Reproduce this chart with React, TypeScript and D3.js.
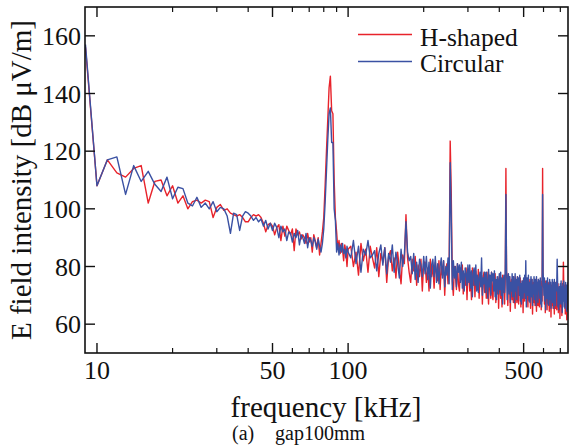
import React from 'react';
import * as d3 from 'd3';

// ---- data ----
const freqLow: number[] = d3.range(9, 101); // kHz, 1 kHz step
const freqHigh: number[] = d3.range(260).map((i) => 102.5 + 2.5 * i); // kHz, 2.5 kHz step

const redLow = [
  156, 108, 117, 112.5, 111, 114, 115, 102, 109.5, 110, 104.5, 108, 102, 104.5, 100,
  102.5, 103, 102, 103, 102.5, 97, 100.5, 101.5, 99.5, 100, 98.5, 98, 97.5, 98, 97, 95.5, 95.5,
  97, 98, 97.5, 98, 97, 95, 92, 94.5, 95, 94, 91, 93.5, 94.5, 89, 94, 90.5, 94, 92.5, 91, 93,
  85.5, 93, 91, 92, 89.5, 91, 90, 88, 91.5, 88.5, 90, 85, 91, 89, 86.5, 90, 84,
  88, 92, 97, 108, 120, 131, 142, 146, 134, 133, 110, 97, 92,
  86, 89, 84.5, 88, 86, 82, 87.5, 85, 80, 86,
];
const blueLow = [
  157, 108, 117, 118, 105, 115, 109.5, 113, 108.5, 106, 111, 103.5, 107.5, 107, 102,
  101, 104, 100.5, 102, 100, 102.5, 99, 100.5, 100, 97.5, 91.5, 98.5, 98, 92.5, 97.5, 99, 98.5,
  97.5, 96, 97, 95.5, 96.5, 94, 96, 93, 95, 92.5, 95, 93.5, 90, 94, 92, 93, 89, 92, 91.5, 88.5,
  91.5, 90, 92.5, 87.5, 91, 90, 88, 91.5, 86.5, 90, 89, 87, 90, 88.5, 86, 89.5, 87,
  85, 88, 93, 102, 113, 124, 133, 135, 123, 123, 100, 96, 85,
  88, 84, 87.5, 85, 88, 84.5, 86, 83, 87, 85,
];

const redHigh = [
  87, 80, 85, 77, 88, 82, 86, 78, 87, 83,
  79.5, 86.5, 76.5, 84.5, 81.5, 86.5, 74.5, 83.5, 85.5, 78.5,
  83, 76, 85, 79, 74, 84, 81, 98, 83, 78,
  74.5, 82.5, 78.5, 83.5, 73.5, 80.5, 76.5, 82.5, 71.5, 81.5,
  81.5, 74.5, 79.5, 71.5, 82.5, 76.5, 80.5, 72.5, 81.5, 77.5,
  75, 82, 72, 80, 77, 82, 70, 79, 81, 74,
  79, 123.5, 105.5, 75, 70, 80, 77, 72, 81, 74,
  71.5, 79.5, 75.5, 80.5, 70.5, 77.5, 73.5, 79.5, 68.5, 78.5,
  78.5, 71.5, 76.5, 68.5, 79.5, 73.5, 77.5, 69.5, 78.5, 74.5,
  72, 79, 69, 77, 74, 77, 67, 76, 78, 71,
  76, 69, 78, 72, 67, 77, 74, 69, 78, 71,
  68.5, 76.5, 72.5, 77.5, 67.5, 74.5, 70.5, 76.5, 65.5, 75.5,
  76, 69, 74, 66, 77, 71, 75, 67, 76, 114,
  78, 77, 66.5, 74.5, 71.5, 76.5, 64.5, 73.5, 75.5, 68.5,
  74.5, 67.5, 76.5, 70.5, 65.5, 75.5, 72.5, 67.5, 76.5, 69.5,
  67, 75, 71, 76, 66, 73, 69, 75, 64, 74,
  75, 68, 73, 70, 76, 70, 74, 66, 75, 71,
  68.5, 75.5, 65.5, 73.5, 70.5, 75.5, 63.5, 72.5, 74.5, 67.5,
  73.5, 66.5, 75.5, 69.5, 64.5, 74.5, 71.5, 66.5, 75.5, 68.5,
  66, 74, 70, 75, 65, 72, 68, 114, 76, 73,
  74, 67, 72, 64, 75, 69, 73, 65, 74, 70,
  67.5, 74.5, 64.5, 72.5, 69.5, 74.5, 62.5, 71.5, 73.5, 66.5,
  72.5, 65.5, 74.5, 68.5, 63.5, 73.5, 70.5, 65.5, 74.5, 67.5,
  65, 73, 69, 74, 64, 71, 67, 73, 62, 72,
  73, 66, 71, 63, 74, 68, 72, 81.5, 73, 69,
  66.5, 73.5, 63.5, 71.5, 68.5, 73.5, 61.5, 70.5, 72.5, 65,
];
const blueHigh = [
  83, 89, 81, 87, 78, 86, 84, 89, 83, 84,
  85.5, 78.5, 84.5, 87.5, 80.5, 86.5, 77.5, 84.5, 81.5, 87.5,
  78, 85, 81, 76, 86, 80, 84, 95.5, 85, 82,
  83.5, 77.5, 84.5, 75.5, 81.5, 74.5, 82.5, 80.5, 76.5, 83.5,
  77.5, 83.5, 75.5, 81.5, 72.5, 80.5, 82.5, 76.5, 83.5, 74.5,
  81, 74, 80, 83, 76, 82, 73, 80, 77, 83,
  74, 116, 97, 72, 82, 76, 80, 73, 81, 78,
  80.5, 74.5, 81.5, 72.5, 78.5, 71.5, 79.5, 77.5, 73.5, 80.5,
  74.5, 80.5, 72.5, 78.5, 69.5, 77.5, 79.5, 73.5, 80.5, 71.5,
  77, 71, 76, 78, 73, 83, 70, 76, 74, 78,
  71, 78, 74, 69, 79, 73, 77, 70, 78, 75,
  77.5, 71.5, 78.5, 69.5, 75.5, 68.5, 76.5, 74.5, 70.5, 77.5,
  72, 78, 70, 76, 67, 75, 77, 71, 78, 105,
  79, 68.5, 74.5, 77.5, 70.5, 76.5, 67.5, 74.5, 71.5, 77.5,
  69.5, 76.5, 72.5, 67.5, 77.5, 71.5, 75.5, 68.5, 76.5, 73.5,
  76, 70, 77, 68, 74, 67, 75, 73, 69, 76,
  71, 77, 69, 82, 66, 74, 76, 70, 77, 68,
  74.5, 67.5, 73.5, 76.5, 69.5, 75.5, 66.5, 73.5, 70.5, 76.5,
  68.5, 75.5, 71.5, 66.5, 76.5, 70.5, 74.5, 67.5, 75.5, 72.5,
  75, 69, 76, 67, 73, 66, 74, 105, 78, 75,
  70, 76, 68, 74, 65, 73, 75, 69, 76, 67,
  73.5, 66.5, 72.5, 75.5, 68.5, 74.5, 65.5, 72.5, 69.5, 75.5,
  67.5, 74.5, 70.5, 65.5, 75.5, 69.5, 73.5, 66.5, 74.5, 71.5,
  74, 82.5, 75, 66, 72, 65, 73, 71, 67, 74,
  69, 75, 67, 73, 64, 72, 74, 68, 75, 66,
  72.5, 65.5, 71.5, 74.5, 67.5, 73.5, 64.5, 71.5, 68.5, 74.5,
];

const xMajorTicks = [10, 50, 100, 500];
const xMinorTicks = [20, 30, 40, 60, 70, 80, 90, 200, 300, 400, 600, 700];
const yTicks = [60, 80, 100, 120, 140, 160];
const seriesNames = ['H-shaped', 'Circular'];
const seriesColors = ['#e8232b', '#3a51a3'];

const FONT = '"Liberation Serif", "Times New Roman", serif';

export default function App() {
  const L = 85, R = 568, T = 7, B = 353;
  const x = d3.scaleLog().domain([8.96, 751]).range([L, R]);
  const y = d3.scaleLinear().domain([50, 170]).range([B, T]);
  const line = d3
    .line<[number, number]>()
    .x((d) => x(d[0]))
    .y((d) => y(d[1]));

  const freqs = [...freqLow, ...freqHigh];
  const redVals = [...redLow, ...redHigh];
  const blueVals = [...blueLow, ...blueHigh];
  const red: [number, number][] = freqs.map((f, i) => [f, redVals[i]]);
  const blue: [number, number][] = freqs.map((f, i) => [f, blueVals[i]]);
  const series = [red, blue];

  return (
    <svg
      width={569}
      height={448}
      style={{ position: 'absolute', left: 0, top: 0, background: '#fff' }}
      fontFamily={FONT}
    >
      <defs>
        <clipPath id="plot">
          <rect x={L} y={T} width={R - L} height={B - T} />
        </clipPath>
      </defs>
      <rect x={0} y={0} width={569} height={448} fill="#fff" />

      <g clipPath="url(#plot)">
        {series.map((s, k) => (
          <path
            key={k}
            d={line(s) || ''}
            fill="none"
            stroke={seriesColors[k]}
            strokeWidth={1.4}
            strokeLinejoin="round"
          />
        ))}
      </g>

      {/* frame */}
      <rect x={L} y={T} width={R - L} height={B - T} fill="none" stroke="#111" strokeWidth={1.6} />

      {/* x ticks */}
      {xMajorTicks.map((t) => (
        <g key={'xM' + t}>
          <line x1={x(t)} x2={x(t)} y1={B} y2={B - 10} stroke="#111" strokeWidth={1.4} />
          <line x1={x(t)} x2={x(t)} y1={T} y2={T + 10} stroke="#111" strokeWidth={1.4} />
          <text x={x(t)} y={379} textAnchor="middle" fontSize={26} fill="#111">
            {t}
          </text>
        </g>
      ))}
      {xMinorTicks.map((t) => (
        <g key={'xm' + t}>
          <line x1={x(t)} x2={x(t)} y1={B} y2={B - 5} stroke="#111" strokeWidth={1.2} />
          <line x1={x(t)} x2={x(t)} y1={T} y2={T + 5} stroke="#111" strokeWidth={1.2} />
        </g>
      ))}

      {/* y ticks */}
      {yTicks.map((t) => (
        <g key={'y' + t}>
          <line x1={L} x2={L + 10} y1={y(t)} y2={y(t)} stroke="#111" strokeWidth={1.4} />
          <line x1={R} x2={R - 10} y1={y(t)} y2={y(t)} stroke="#111" strokeWidth={1.4} />
          <text x={81} y={y(t) + 9} textAnchor="end" fontSize={26} fill="#111">
            {t}
          </text>
        </g>
      ))}

      {/* axis titles */}
      <text x={326} y={417} textAnchor="middle" fontSize={29} fill="#111">
        frequency [kHz]
      </text>
      <text
        transform={`translate(31, ${y(110)}) rotate(-90)`}
        textAnchor="middle"
        fontSize={29}
        fill="#111"
      >
        E field intensity [dB μV/m]
      </text>
      <text x={232} y={440} fontSize={20} fill="#111">
        (a)
      </text>
      <text x={275} y={440} fontSize={20} fill="#111">
        gap100mm
      </text>

      {/* legend */}
      {seriesNames.map((n, k) => (
        <g key={n}>
          <line
            x1={358}
            x2={412}
            y1={34.5 + k * 27}
            y2={34.5 + k * 27}
            stroke={seriesColors[k]}
            strokeWidth={1.6}
          />
          <text x={420} y={46 + k * 26} fontSize={25.5} fill="#111">
            {n}
          </text>
        </g>
      ))}
    </svg>
  );
}
